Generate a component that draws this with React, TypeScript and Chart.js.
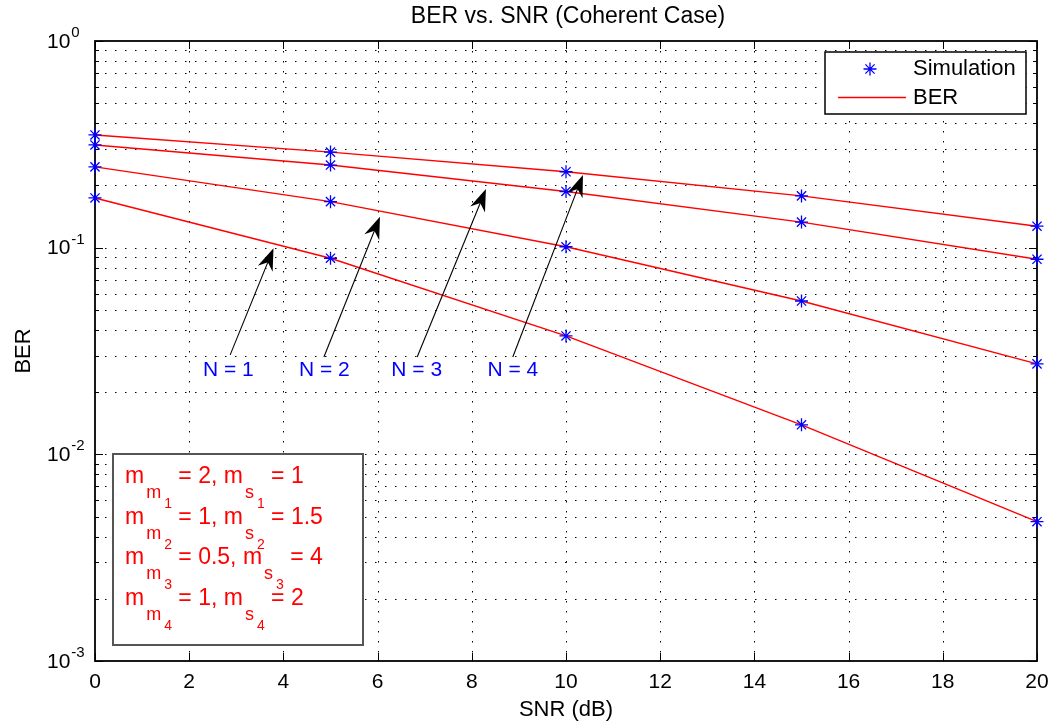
import React, { useEffect, useRef } from "react";
import { Chart, registerables } from "chart.js";

Chart.register(...registerables);

// ---- data ----
const snrDb = [0, 5, 10, 15, 20];
const berN1 = [0.174, 0.0889, 0.0374, 0.0139, 0.00472];
const berN2 = [0.246, 0.167, 0.101, 0.0552, 0.0274];
const berN3 = [0.314, 0.251, 0.187, 0.133, 0.0879];
const berN4 = [0.351, 0.29, 0.233, 0.178, 0.127];
const seriesList = [berN1, berN2, berN3, berN4];

const xTickValues = [0, 2, 4, 6, 8, 10, 12, 14, 16, 18, 20];
const yDecades = [0, -1, -2, -3];

// annotation arrows (data coordinates)
const arrowLabels = ["N = 1", "N = 2", "N = 3", "N = 4"];
const arrowTailX = [2.87, 4.86, 6.84, 8.87];
const arrowTailY = [0.0303, 0.0296, 0.0296, 0.0296];
const arrowHeadX = [3.79, 6.05, 8.3, 10.36];
const arrowHeadY = [0.0993, 0.141, 0.192, 0.225];
const labelX = [2.83, 4.87, 6.83, 8.87];
const labelY = 0.0256;

// parameter text box
const mmValues = ["2", "1", "0.5", "1"];
const msValues = ["1", "1.5", "4", "2"];

const FONT = '"Liberation Sans", Arial, Helvetica, sans-serif';
const RED = "#ff0000";
const BLUE = "#0000ff";

function drawStar(ctx: CanvasRenderingContext2D, x: number, y: number, r: number) {
  ctx.beginPath();
  ctx.moveTo(x - r, y);
  ctx.lineTo(x + r, y);
  ctx.moveTo(x, y - r);
  ctx.lineTo(x, y + r);
  const d = r * 0.7071;
  ctx.moveTo(x - d, y - d);
  ctx.lineTo(x + d, y + d);
  ctx.moveTo(x - d, y + d);
  ctx.lineTo(x + d, y - d);
  ctx.stroke();
}

const axesPlugin = {
  id: "matlabAxes",
  beforeDatasetsDraw(chart: any) {
    const ctx: CanvasRenderingContext2D = chart.ctx;
    const { left, right, top, bottom } = chart.chartArea;
    const xs = chart.scales.x;
    const ys = chart.scales.y;
    ctx.save();
    ctx.fillStyle = "#fff";
    ctx.fillRect(left, top, right - left, bottom - top);
    // dotted grid
    ctx.strokeStyle = "#000";
    ctx.lineWidth = 1;
    ctx.setLineDash([1.5, 8.5]);
    for (const v of xTickValues) {
      if (v === 0 || v === 20) continue;
      const px = Math.round(xs.getPixelForValue(v)) + 0.5;
      ctx.beginPath();
      ctx.moveTo(px, top);
      ctx.lineTo(px, bottom);
      ctx.stroke();
    }
    for (let d = -3; d < 0; d++) {
      for (let m = 1; m <= 9; m++) {
        if (d === -3 && m === 1) continue;
        const py = Math.round(ys.getPixelForValue(m * Math.pow(10, d))) + 0.5;
        ctx.beginPath();
        ctx.moveTo(left, py);
        ctx.lineTo(right, py);
        ctx.stroke();
      }
    }
    ctx.setLineDash([]);
    // ticks
    ctx.lineWidth = 1;
    for (const v of xTickValues) {
      const px = Math.round(xs.getPixelForValue(v)) + 0.5;
      ctx.beginPath();
      ctx.moveTo(px, bottom);
      ctx.lineTo(px, bottom - 8);
      ctx.moveTo(px, top);
      ctx.lineTo(px, top + 8);
      ctx.stroke();
    }
    for (let d = -3; d <= 0; d++) {
      for (let m = 1; m <= 9; m++) {
        if (d === 0 && m > 1) continue;
        const py = Math.round(ys.getPixelForValue(m * Math.pow(10, d))) + 0.5;
        const len = m === 1 ? 8 : 4;
        ctx.beginPath();
        ctx.moveTo(left, py);
        ctx.lineTo(left + len, py);
        ctx.moveTo(right, py);
        ctx.lineTo(right - len, py);
        ctx.stroke();
      }
    }
    // box
    ctx.lineWidth = 1.8;
    ctx.strokeRect(left, top, right - left, bottom - top);

    // tick labels
    ctx.fillStyle = "#000";
    ctx.font = `21px ${FONT}`;
    ctx.textAlign = "center";
    ctx.textBaseline = "middle";
    for (const v of xTickValues) {
      ctx.fillText(String(v), xs.getPixelForValue(v), bottom + 21);
    }
    for (const d of yDecades) {
      const py = ys.getPixelForValue(Math.pow(10, d));
      ctx.font = `21px ${FONT}`;
      ctx.textAlign = "left";
      ctx.textBaseline = "middle";
      const lx = 47;
      ctx.fillText("10", lx, py + 1);
      const w = ctx.measureText("10").width;
      ctx.font = `15px ${FONT}`;
      ctx.textBaseline = "alphabetic";
      ctx.fillText(d === 0 ? "0" : "-" + String(-d), lx + w + 1, py - 4);
    }
    // titles
    ctx.textAlign = "center";
    ctx.textBaseline = "middle";
    ctx.font = `23px ${FONT}`;
    ctx.fillText("BER vs. SNR (Coherent Case)", (left + right) / 2 + 2, 17);
    ctx.font = `22px ${FONT}`;
    ctx.fillText("SNR (dB)", (left + right) / 2, 710);
    ctx.save();
    ctx.translate(24, (top + bottom) / 2);
    ctx.rotate(-Math.PI / 2);
    ctx.fillText("BER", 0, 0);
    ctx.restore();
    ctx.restore();
  },
  afterDatasetsDraw(chart: any) {
    const ctx: CanvasRenderingContext2D = chart.ctx;
    const xs = chart.scales.x;
    const ys = chart.scales.y;
    ctx.save();
    // arrows
    for (let i = 0; i < arrowLabels.length; i++) {
      const x0 = xs.getPixelForValue(arrowTailX[i]);
      const y0 = ys.getPixelForValue(arrowTailY[i]);
      const x1 = xs.getPixelForValue(arrowHeadX[i]);
      const y1 = ys.getPixelForValue(arrowHeadY[i]);
      const len = Math.hypot(x1 - x0, y1 - y0);
      const ux = (x1 - x0) / len;
      const uy = (y1 - y0) / len;
      const nx = -uy;
      const ny = ux;
      ctx.strokeStyle = "#000";
      ctx.lineWidth = 1.1;
      ctx.beginPath();
      ctx.moveTo(x0, y0);
      ctx.lineTo(x1 - ux * 12, y1 - uy * 12);
      ctx.stroke();
      ctx.fillStyle = "#000";
      ctx.beginPath();
      ctx.moveTo(x1, y1);
      ctx.lineTo(x1 - ux * 22 + nx * 8, y1 - uy * 22 + ny * 8);
      ctx.lineTo(x1 - ux * 15, y1 - uy * 15);
      ctx.lineTo(x1 - ux * 22 - nx * 8, y1 - uy * 22 - ny * 8);
      ctx.closePath();
      ctx.fill();
      ctx.fillStyle = BLUE;
      ctx.font = `21px ${FONT}`;
      ctx.textAlign = "center";
      ctx.textBaseline = "middle";
      ctx.fillText(arrowLabels[i], xs.getPixelForValue(labelX[i]), ys.getPixelForValue(labelY));
    }

    // legend (top right)
    const lx = 825, ly = 52, lw = 201, lh = 62;
    ctx.fillStyle = "#fff";
    ctx.fillRect(lx, ly, lw, lh);
    ctx.strokeStyle = "#000";
    ctx.lineWidth = 1.5;
    ctx.strokeRect(lx, ly, lw, lh);
    ctx.strokeStyle = BLUE;
    ctx.lineWidth = 1.3;
    drawStar(ctx, 870, 69, 6.5);
    ctx.strokeStyle = RED;
    ctx.lineWidth = 1.3;
    ctx.beginPath();
    ctx.moveTo(838, 97.5);
    ctx.lineTo(906, 97.5);
    ctx.stroke();
    ctx.fillStyle = "#000";
    ctx.font = `22px ${FONT}`;
    ctx.textAlign = "left";
    ctx.textBaseline = "middle";
    ctx.fillText("Simulation", 913, 69);
    ctx.fillText("BER", 913, 98);

    // parameter box (bottom left)
    const bx = 113, by = 454, bw = 250, bh = 191;
    ctx.fillStyle = "#fff";
    ctx.fillRect(bx, by, bw, bh);
    ctx.strokeStyle = "#555";
    ctx.lineWidth = 2;
    ctx.strokeRect(bx, by, bw, bh);
    ctx.fillStyle = RED;
    ctx.textAlign = "left";
    ctx.textBaseline = "alphabetic";
    const baselines = [483, 523.5, 564, 604.5];
    for (let i = 0; i < 4; i++) {
      const n = String(i + 1);
      const parts: { t: string; s: number; dy: number; dx?: number }[] = [
        { t: "m", s: 23, dy: 0 },
        { t: "m", s: 18, dy: 15, dx: 2 },
        { t: n, s: 14, dy: 25, dx: 3 },
        { t: ` = ${mmValues[i]}, m`, s: 23, dy: 0 },
        { t: "s", s: 18, dy: 15, dx: 2 },
        { t: n, s: 14, dy: 25, dx: 3 },
        { t: ` = ${msValues[i]}`, s: 23, dy: 0 },
      ];
      let x = 125;
      for (const p of parts) {
        x += p.dx || 0;
        ctx.font = `${p.s}px ${FONT}`;
        ctx.fillText(p.t, x, baselines[i] + p.dy);
        x += ctx.measureText(p.t).width;
      }
    }
    ctx.restore();
  },
};

export default function App() {
  const canvasRef = useRef<HTMLCanvasElement | null>(null);
  useEffect(() => {
    if (!canvasRef.current) return;
    const lineSets = seriesList.map((s) => ({
      type: "line" as const,
      label: "BER",
      data: snrDb.map((x, i) => ({ x, y: s[i] })),
      borderColor: RED,
      borderWidth: 1.4,
      pointRadius: 0,
      fill: false,
      tension: 0,
      clip: false as any,
      order: 2,
    }));
    const simSets = seriesList.map((s) => ({
      type: "line" as const,
      label: "Simulation",
      data: snrDb.map((x, i) => ({ x, y: s[i] })),
      showLine: false,
      pointStyle: "star" as const,
      pointRadius: 6.5,
      borderColor: BLUE,
      backgroundColor: BLUE,
      pointBorderWidth: 1.3,
      clip: false as any,
      order: 1,
    }));
    const chart = new Chart(canvasRef.current, {
      type: "line",
      data: { datasets: [...lineSets, ...simSets] as any },
      options: {
        animation: false,
        responsive: false,
        layout: { padding: { left: 95, right: 18, top: 41, bottom: 64 } },
        plugins: { legend: { display: false }, tooltip: { enabled: false }, title: { display: false } },
        scales: {
          x: { type: "linear", min: 0, max: 20, display: false },
          y: { type: "logarithmic", min: 0.001, max: 1, display: false },
        },
      },
      plugins: [axesPlugin],
    });
    return () => chart.destroy();
  }, []);
  return (
    <div style={{ position: "absolute", left: 0, top: 0, width: 1055, height: 725, background: "#fff" }}>
      <canvas ref={canvasRef} width={1055} height={725} style={{ display: "block" }} />
    </div>
  );
}
